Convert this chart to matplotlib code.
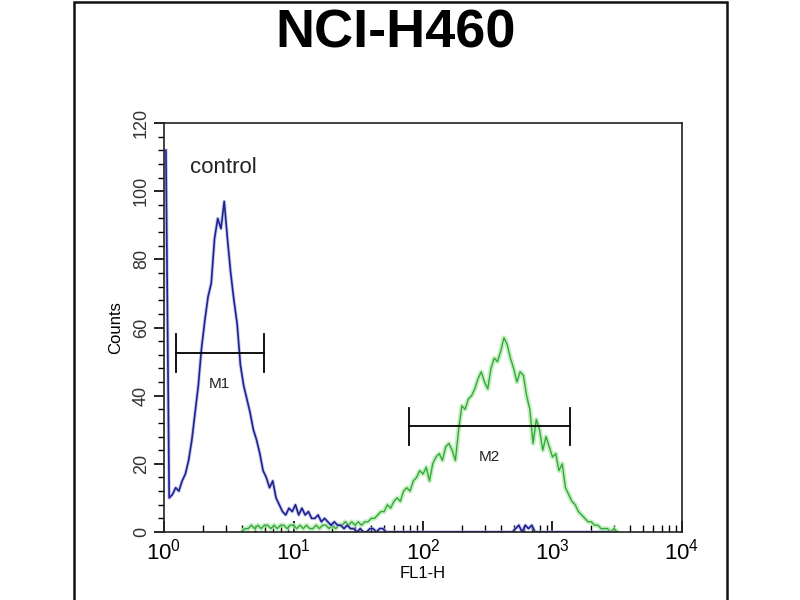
import numpy as np
import matplotlib
matplotlib.use("Agg")
import matplotlib.pyplot as plt
from matplotlib.ticker import LogLocator, MultipleLocator, LogFormatterSciNotation
from matplotlib.patches import Rectangle

plt.rcParams['font.family'] = ['Liberation Sans', 'DejaVu Sans']
plt.rcParams['mathtext.fontset'] = 'custom'
plt.rcParams['mathtext.rm'] = 'Liberation Sans'

# histogram channels are spaced evenly in log10(FL1-H)
blue_start = 0.015
green_start = 0.6
log_step = 0.025

# control (blue) counts per channel
blue_counts = [112, 10, 11, 13, 12, 15, 17, 21, 27, 35, 43, 54, 62, 69, 73, 86, 92, 89, 97, 86,
               76, 68, 61, 49, 43, 39, 35, 30, 27, 23, 18, 16, 13, 15, 10, 8, 6, 5, 7, 6,
               8, 5, 7, 5, 6, 4, 4, 5, 3, 4, 3, 2, 3, 2, 2, 1, 2, 1, 1, 0,
               1, 0, 0, 1, 1, 0, 1, 1, 0] + [0] * 39 + \
              [1, 2, 0, 2, 1, 2, 0, 0] + [0] * 22

# sample (green) counts per channel
green_counts = [0, 1, 1, 2, 1, 2, 1, 2, 2, 1, 2, 1, 2, 2, 1, 2, 2, 1, 2, 1,
                2, 1, 1, 2, 1, 2, 2, 1, 2, 1, 2, 2, 3, 2, 3, 2, 3, 2, 3, 3,
                4, 4, 5, 6, 6, 8, 7, 9, 10, 9, 12, 13, 12, 15, 16, 18, 17, 19, 15, 20,
                22, 23, 21, 25, 26, 24, 21, 30, 37, 36, 39, 40, 42, 45, 47, 44, 42, 48, 51, 50,
                53, 57, 55, 51, 48, 44, 47, 46, 40, 36, 26, 33, 30, 24, 28, 25, 22, 23, 18, 20,
                13, 11, 9, 8, 6, 5, 4, 3, 3, 2, 2, 1, 1, 1, 0, 1, 0]

# gates
m1_range = (1.23, 5.9)
m1_level = 52.5
m2_range = (78, 1360)
m2_level = 31

blue_x = 10 ** (blue_start + log_step * np.arange(len(blue_counts)))
green_x = 10 ** (green_start + log_step * np.arange(len(green_counts)))

fig = plt.figure(figsize=(8, 6), dpi=100)
fig.patches.append(Rectangle((0.0925, -0.01), 0.816, 1.0067, transform=fig.transFigure,
                             fill=False, edgecolor='#111111', linewidth=1.8))
ax = fig.add_axes([0.205, 0.1133, 0.6475, 0.6817])

ax.plot(green_x, green_counts, color='#b6ecb0', lw=3.5, alpha=0.8)
ax.plot(green_x, green_counts, color='#35a83c', lw=1.0)
ax.plot(blue_x, blue_counts, color='#aab2ea', lw=2.5, alpha=0.7)
ax.plot(blue_x, blue_counts, color='#22228f', lw=1.2)

# gate markers
for (lo, hi), lvl, name in [(m1_range, m1_level, 'M1'), (m2_range, m2_level, 'M2')]:
    ax.plot([lo, hi], [lvl, lvl], color='black', lw=1.3)
    ax.plot([lo, lo], [lvl - 5.5, lvl + 5.5], color='black', lw=1.3)
    ax.plot([hi, hi], [lvl - 5.5, lvl + 5.5], color='black', lw=1.3)
    ax.text(np.sqrt(lo * hi), lvl - 9, name, ha='center', va='center', fontsize=11, color='#222222')

ax.text(1.6, 107, 'control', fontsize=16, color='#222222', va='center', ha='left')

ax.set_xscale('log')
ax.set_xlim(1, 10000)
ax.set_ylim(0, 120)
ax.xaxis.set_major_locator(LogLocator(base=10, numticks=10))
ax.xaxis.set_minor_locator(LogLocator(base=10, subs=np.arange(2, 10), numticks=50))
ax.xaxis.set_major_formatter(LogFormatterSciNotation())
ax.yaxis.set_major_locator(MultipleLocator(20))
ax.yaxis.set_minor_locator(MultipleLocator(4))

ax.tick_params(axis='x', which='major', direction='in', length=8, width=1.2, labelsize=16, pad=5)
ax.tick_params(axis='x', which='minor', direction='in', length=5, width=1)
ax.tick_params(axis='y', which='major', direction='out', length=7, width=1.2, labelsize=13, pad=3,
               labelcolor='#333333')
ax.tick_params(axis='y', which='minor', direction='out', length=4, width=1)
for lbl in ax.get_yticklabels():
    lbl.set_rotation(90)
    lbl.set_va('center')

for s in ax.spines.values():
    s.set_linewidth(1.2)
    s.set_color('#222222')

ax.set_ylabel('Counts', fontsize=12, labelpad=7)
ax.set_xlabel('FL1-H', fontsize=12, labelpad=1)

fig.text(0.494, 0.945, 'NCI-H460', fontsize=39, fontweight='bold', ha='center', va='center')

fig.savefig('out.png', dpi=100)
